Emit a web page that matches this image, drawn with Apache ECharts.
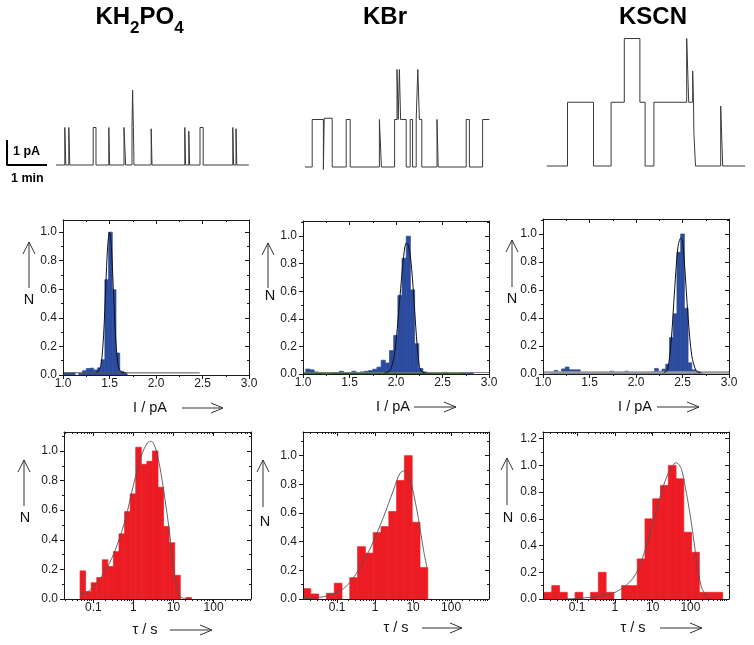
<!DOCTYPE html>
<html><head><meta charset="utf-8"><title>Single channel recordings</title>
<script src="https://cdn.jsdelivr.net/npm/echarts@6.0.0/dist/echarts.min.js"></script>
<style>html,body{margin:0;padding:0;background:#fff;}#chart{width:754px;height:645px;}</style>
</head><body><div id="chart"></div>
<script>
// ================= DATA =================
// Current traces (step events: time in min, current in pA)
const traceKH2PO4Time = [0, 0.22, 0.245, 0.32, 0.345, 0.93, 1.0, 1.32, 1.34, 1.70, 1.74, 1.90, 1.915, 1.935, 1.95, 2.38, 2.40, 3.22, 3.24, 3.32, 3.34, 3.60, 3.68, 4.42, 4.44, 4.50, 4.52, 4.82];
const traceKH2PO4Current = [0, 1.5, 0, 1.5, 0, 1.5, 0, 1.5, 0, 1.5, 0, 1.5, 3.0, 1.5, 0, 1.45, 0, 1.5, 0, 1.35, 0, 1.5, 0, 1.5, 0, 1.45, 0, 0];
const traceKBrTime = [0, 0.18, 0.46, 0.48, 0.68, 1.03, 1.13, 1.86, 1.91, 2.24, 2.30, 2.33, 2.36, 2.39, 2.53, 2.63, 2.69, 2.78, 2.82, 2.86, 2.92, 3.30, 3.33, 4.03, 4.11, 4.44, 4.61];
const traceKBrCurrent = [0, 1.9, -0.1, 1.95, 0, 1.9, 0, 1.9, 0, 1.9, 3.9, 1.9, 3.9, 1.9, 0, 1.9, 0, 1.9, 3.9, 1.9, 0, 1.9, 0, 1.9, 0, 1.9, 1.9];
const traceKSCNTime = [0, 0.52, 1.17, 1.61, 1.94, 2.33, 2.46, 2.68, 3.50, 3.55, 3.65, 3.67, 3.68, 3.72, 4.35, 4.40, 4.96];
const traceKSCNCurrent = [0, 2.55, 0, 2.55, 5.1, 2.55, 0, 2.55, 5.1, 2.55, 3.8, 2.55, 1.3, 0, 2.4, 0, 0];
// Scale bar: 1 pA x 1 min
const scaleBarTime = [-1.225, -1.225, -0.225];
const scaleBarCurrent = [1, 0, 0];

// Current amplitude histograms (bin edges in pA, normalised counts N)
const kh2po4AmpEdges = [1.01,1.05,1.09,1.13,1.17,1.21,1.25,1.29,1.33,1.37,1.41,1.45,1.49,1.53,1.57,1.61,1.65,1.69];
const kh2po4AmpN = [0.015,0.015,0.015,0,0.012,0.03,0.045,0.048,0.035,0.05,0.107,0.667,1.0,0.597,0.154,0.026,0.01];
const kbrAmpEdges = [0.985,1.030,1.075,1.120,1.165,1.210,1.255,1.300,1.345,1.390,1.435,1.480,1.525,1.570,1.615,1.660,1.705,1.750,1.795,1.840,1.885,1.930,1.975,2.020,2.065,2.110,2.155,2.200,2.245,2.290,2.335,2.380,2.425,2.470,2.515,2.560,2.605,2.650,2.695,2.740,2.785,2.830];
const kbrAmpN = [0.012,0.036,0.03,0.015,0.008,0.005,0.005,0.01,0.01,0.02,0.01,0.008,0.02,0.01,0.015,0.02,0.025,0.035,0.05,0.10,0.08,0.17,0.28,0.57,0.84,1.0,0.61,0.22,0.04,0.015,0.008,0.005,0.005,0.005,0.012,0.005,0.005,0.005,0.008,0.005,0.01];
const kscnAmpEdges = [1.00,1.04,1.08,1.12,1.16,1.20,1.24,1.28,1.32,1.36,1.40,1.44,1.48,1.52,1.56,1.60,1.64,1.68,1.72,1.76,1.80,1.84,1.88,1.92,1.96,2.00,2.04,2.08,2.12,2.16,2.20,2.24,2.28,2.32,2.36,2.40,2.44,2.48,2.52,2.56,2.60,2.64,2.68,2.72];
const kscnAmpN = [0,0,0.005,0.026,0.012,0.036,0.05,0.03,0.03,0.03,0.005,0.005,0.003,0.005,0.003,0.005,0.003,0.005,0.02,0.008,0.005,0.008,0.02,0.005,0.005,0.005,0.008,0.008,0.01,0.015,0.04,0.02,0.035,0.07,0.26,0.43,0.87,1.0,0.47,0.08,0.03,0.02,0.005];

// Gaussian fits of amplitude histograms
const kh2po4AmpFitI = [1.36,1.40,1.42,1.44,1.46,1.48,1.50,1.52,1.54,1.56,1.58,1.60,1.63,1.68];
const kh2po4AmpFitN = [0.015,0.05,0.13,0.32,0.62,0.90,1.0,0.90,0.62,0.33,0.14,0.05,0.02,0.015];
const kh2po4AmpBaseI = [1.0, 2.47];
const kh2po4AmpBaseN = [0.015, 0.015];
const kbrAmpFitI = [1.88,1.93,1.96,1.99,2.02,2.05,2.08,2.11,2.13,2.16,2.19,2.22,2.25,2.28,2.32];
const kbrAmpFitN = [0.01,0.02,0.07,0.17,0.38,0.62,0.84,0.95,0.94,0.82,0.57,0.27,0.06,0.015,0.01];
const kbrAmpBaseI = [1.0, 3.0];
const kbrAmpBaseN = [0.01, 0.01];
const kscnAmpFitI = [2.30,2.34,2.38,2.415,2.45,2.48,2.50,2.52,2.56,2.60,2.65,2.70];
const kscnAmpFitN = [0.01,0.03,0.25,0.6,0.9,0.97,0.95,0.8,0.41,0.13,0.02,0.01];
const kscnAmpBaseI = [1.0, 3.0];
const kscnAmpBaseN = [0.01, 0.01];

// Open dwell-time histograms (bin edges in s, normalised counts N)
const kh2po4DwellEdges = [0.0465,0.0640,0.0881,0.1213,0.1671,0.2301,0.3170,0.4365,0.6012,0.8279,1.140,1.570,2.163,2.979,4.102,5.649,7.780,10.72,14.76,20.32,27.99];
const kh2po4DwellN = [0.19,0.05,0.11,0.145,0.265,0.22,0.32,0.44,0.59,0.71,1.025,0.91,0.93,1.0,0.755,0.49,0.38,0.16,0,0.01];
const kbrDwellEdges = [0.0126,0.0202,0.0324,0.0521,0.0836,0.134,0.215,0.345,0.555,0.890,1.429,2.294,3.681,5.909,9.484,15.22,24.43];
const kbrDwellN = [0.072,0.035,0,0.04,0.11,0,0.149,0.365,0.32,0.463,0.505,0.61,0.826,1.0,0.535,0.219];
const kscnDwellEdges = [0.01337,0.02146,0.03443,0.05527,0.08872,0.1424,0.2286,0.3668,0.5888,0.9451,1.517,2.435,3.908,6.273,10.07,16.16,25.94,41.64,66.83,107.3,172.2,276.4,443.6,712.0];
const kscnDwellN = [0.05,0.10,0.05,0,0.05,0,0.05,0.20,0.05,0,0.10,0.10,0.30,0.60,0.75,0.85,1.0,0.90,0.50,0.35,0.05,0.05,0.05];

// Log-normal fits of dwell histograms
const kh2po4DwellFitTau = [0.0465,0.063,0.1,0.158,0.251,0.398,0.631,1.0,1.585,2.24,2.82,3.98,5.62,7.94,10.0,12.6,14.1,20.0];
const kh2po4DwellFitN = [0.03,0.04,0.08,0.15,0.24,0.37,0.54,0.77,0.97,1.055,1.065,0.97,0.74,0.45,0.2,0.06,0.02,0.0];
const kbrDwellFitTau = [0.0126,0.052,0.145,0.324,0.733,1.65,3.04,4.57,6.17,8.4,12.6,18.9,23.2];
const kbrDwellFitN = [0.0,0.02,0.07,0.18,0.35,0.57,0.76,0.88,0.895,0.83,0.62,0.34,0.22];
const kscnDwellFitTau = [0.052,0.398,1.11,3.04,5.6,10.3,18.9,31.5,42.7,58,78.5,106,145,195,266,324];
const kscnDwellFitN = [0.0,0.02,0.055,0.155,0.32,0.57,0.84,0.99,1.02,0.97,0.79,0.57,0.29,0.09,0.02,0.0];

// Tick values / labels
const currentTicks = [1.0, 1.5, 2.0, 2.5, 3.0];
const nTicks = [0, 0.2, 0.4, 0.6, 0.8, 1.0];
const nTicksKSCNDwell = [0, 0.2, 0.4, 0.6, 0.8, 1.0, 1.2];
const tauTicks = [0.1, 1, 10, 100];
const tauTickLabels = ['0.1', '1', '10', '100'];
const tauMinorTicks = [0.02,0.03,0.04,0.05,0.06,0.07,0.08,0.09,0.2,0.3,0.4,0.5,0.6,0.7,0.8,0.9,2,3,4,5,6,7,8,9,20,30,40,50,60,70,80,90,200,300,400,500,600,700,800,900];

// ================= LAYOUT / STYLE =================
const FONT = '"Liberation Sans", Arial, Helvetica, sans-serif';
const INK = '#1a1a1a';
const BLUE = '#2b4c9e';
const RED = '#ec1c24';

const traceLayout = [
  {left: 7, top: 77.5, width: 243, height: 100, xMin: -1.225, xMax: 4.85, yMin: -0.5, yMax: 3.5},
  {left: 305, top: 54.5, width: 186, height: 125, xMin: 0, xMax: 4.65, yMin: -0.5, yMax: 4.5},
  {left: 546.7, top: 28.5, width: 200, height: 150, xMin: 0, xMax: 5.0, yMin: -0.5, yMax: 5.5}
];
const ampLayout = [
  {left: 63, top: 220, width: 186, height: 155, yMax: 1.085},
  {left: 303, top: 221, width: 186, height: 153, yMax: 1.11},
  {left: 543, top: 219, width: 186, height: 155, yMax: 1.107}
];
const dwellLayout = [
  {left: 64, top: 432, width: 187, height: 167, xMin: -1.733, xMax: 2.933, yMax: 1.128},
  {left: 303, top: 432, width: 186, height: 167, xMin: -1.9, xMax: 3.0, yMax: 1.165},
  {left: 543, top: 432, width: 186, height: 167, xMin: -1.9, xMax: 3.02, yMax: 1.25}
];

const grids = [], xAxes = [], yAxes = [], series = [], graphics = [];
const lg = v => Math.log10(v);
const zip = (a, b) => a.map((v, i) => [v, b[i]]);

function addGrid(L) {
  grids.push({left: L.left, top: L.top, width: L.width, height: L.height, containLabel: false, outerBoundsMode: 'none'});
  return grids.length - 1;
}

// ---- traces ----
const traces = [
  [traceKH2PO4Time, traceKH2PO4Current],
  [traceKBrTime, traceKBrCurrent],
  [traceKSCNTime, traceKSCNCurrent]
];
traces.forEach((tr, i) => {
  const L = traceLayout[i];
  const g = addGrid(L);
  xAxes.push({gridIndex: g, type: 'value', min: L.xMin, max: L.xMax, show: false});
  yAxes.push({gridIndex: g, type: 'value', min: L.yMin, max: L.yMax, show: false});
  const xi = xAxes.length - 1, yi = yAxes.length - 1;
  series.push({type: 'line', xAxisIndex: xi, yAxisIndex: yi, data: zip(tr[0], tr[1]), step: 'end',
    showSymbol: false, clip: false, lineStyle: {color: '#3a3a3a', width: 1}, silent: true, animation: false});
  if (i === 0) {
    series.push({type: 'line', xAxisIndex: xi, yAxisIndex: yi, data: zip(scaleBarTime, scaleBarCurrent),
      showSymbol: false, clip: false, lineStyle: {color: '#000', width: 2}, silent: true, animation: false});
  }
});

// ---- framed panel axes ----
function frameAxes(g, xSpec, yMax, yTicks) {
  const line = {show: true, onZero: false, lineStyle: {color: INK, width: 1}};
  const tickStyle = {color: INK, width: 1};
  const labelBase = {fontSize: 12, color: INK, fontFamily: FONT};
  const xb = {gridIndex: g, type: 'value', position: 'bottom', min: xSpec.min, max: xSpec.max, z: 10,
    axisLine: line, splitLine: {show: false},
    axisTick: Object.assign({show: true, inside: false, length: 4, lineStyle: tickStyle}, xSpec.tickExtra || {}),
    axisLabel: Object.assign({show: true, margin: 3}, labelBase, xSpec.labelExtra || {})};
  const xt = {gridIndex: g, type: 'value', position: 'top', min: xSpec.min, max: xSpec.max, z: 10,
    axisLine: line, splitLine: {show: false}, axisLabel: {show: false},
    axisTick: Object.assign({show: true, inside: true, length: 4, lineStyle: tickStyle}, xSpec.tickExtra || {})};
  if (xSpec.interval) {
    xb.interval = xt.interval = xSpec.interval;
    xb.minorTick = {show: true, splitNumber: 2, length: 2, lineStyle: tickStyle};
    xt.minorTick = {show: true, splitNumber: 2, length: 2, lineStyle: tickStyle};
  }
  xAxes.push(xb); const xi = xAxes.length - 1;
  xAxes.push(xt);
  const yl = {gridIndex: g, type: 'value', position: 'left', min: 0, max: yMax, interval: 0.2, z: 10,
    axisLine: line, splitLine: {show: false},
    axisTick: {show: true, inside: false, length: 4, lineStyle: tickStyle, customValues: yTicks},
    minorTick: {show: true, splitNumber: 2, length: 2, lineStyle: tickStyle},
    axisLabel: Object.assign({show: true, margin: 6, customValues: yTicks, formatter: v => Number(v).toFixed(1)}, labelBase)};
  const yr = {gridIndex: g, type: 'value', position: 'right', min: 0, max: yMax, interval: 0.2, z: 10,
    axisLine: line, splitLine: {show: false}, axisLabel: {show: false},
    axisTick: {show: true, inside: true, length: 4, lineStyle: tickStyle, customValues: yTicks},
    minorTick: {show: true, splitNumber: 2, length: 2, lineStyle: tickStyle}};
  yAxes.push(yl); const yi = yAxes.length - 1;
  yAxes.push(yr);
  return {xi, yi};
}

function histSeries(ax, edges, counts, color, tf) {
  const data = [];
  for (let k = 0; k < counts.length; k++) {
    if (counts[k] > 0) data.push([tf(edges[k]), tf(edges[k + 1]), counts[k]]);
  }
  return {type: 'custom', xAxisIndex: ax.xi, yAxisIndex: ax.yi, data, encode: {x: [0, 1], y: 2},
    clip: true, silent: true, animation: false, z: 2,
    renderItem: (params, api) => {
      const p0 = api.coord([api.value(0), 0]);
      const p1 = api.coord([api.value(1), api.value(2)]);
      return {type: 'rect', shape: {x: p0[0], y: p1[1], width: p1[0] - p0[0], height: p0[1] - p1[1]},
        style: {fill: color, stroke: color, lineWidth: 0.7}};
    }};
}
function lineSeries(ax, xs, ys, color, width, smooth) {
  return {type: 'line', xAxisIndex: ax.xi, yAxisIndex: ax.yi, data: zip(xs, ys), showSymbol: false,
    smooth: smooth, clip: true, silent: true, animation: false, z: 3, lineStyle: {color, width}};
}

// ---- amplitude histograms ----
const amp = [
  {edges: kh2po4AmpEdges, n: kh2po4AmpN, fitI: kh2po4AmpFitI, fitN: kh2po4AmpFitN, baseI: kh2po4AmpBaseI, baseN: kh2po4AmpBaseN, baseColor: '#555', baseW: 1},
  {edges: kbrAmpEdges, n: kbrAmpN, fitI: kbrAmpFitI, fitN: kbrAmpFitN, baseI: kbrAmpBaseI, baseN: kbrAmpBaseN, baseColor: '#777', baseW: 1},
  {edges: kscnAmpEdges, n: kscnAmpN, fitI: kscnAmpFitI, fitN: kscnAmpFitN, baseI: kscnAmpBaseI, baseN: kscnAmpBaseN, baseColor: '#9a9a9a', baseW: 2.5}
];
amp.forEach((d, i) => {
  const L = ampLayout[i];
  const g = addGrid(L);
  const ax = frameAxes(g, {min: 1, max: 3, interval: 0.5,
    labelExtra: {customValues: currentTicks, formatter: v => Number(v).toFixed(1)}}, L.yMax, nTicks);
  series.push(histSeries(ax, d.edges, d.n, BLUE, v => v));
  series.push(lineSeries(ax, d.baseI, d.baseN, d.baseColor, d.baseW, false));
  series.push(lineSeries(ax, d.fitI, d.fitN, '#111', 1, 0.3));
});

// ---- dwell-time histograms (log10 tau axis) ----
const dwell = [
  {edges: kh2po4DwellEdges, n: kh2po4DwellN, fitT: kh2po4DwellFitTau, fitN: kh2po4DwellFitN, yTicks: nTicks},
  {edges: kbrDwellEdges, n: kbrDwellN, fitT: kbrDwellFitTau, fitN: kbrDwellFitN, yTicks: nTicks},
  {edges: kscnDwellEdges, n: kscnDwellN, fitT: kscnDwellFitTau, fitN: kscnDwellFitN, yTicks: nTicksKSCNDwell}
];
const majorLogs = tauTicks.map(lg);
const tauLabelFor = v => {
  let best = 0;
  majorLogs.forEach((m, k) => { if (Math.abs(m - v) < Math.abs(majorLogs[best] - v)) best = k; });
  return tauTickLabels[best];
};
dwell.forEach((d, i) => {
  const L = dwellLayout[i];
  const g = addGrid(L);
  const ax = frameAxes(g, {min: L.xMin, max: L.xMax,
    tickExtra: {customValues: majorLogs},
    labelExtra: {customValues: majorLogs, formatter: tauLabelFor}}, L.yMax, d.yTicks);
  series.push(histSeries(ax, d.edges, d.n, RED, lg));
  series.push(lineSeries(ax, d.fitT.map(lg), d.fitN, '#555', 0.9, 0.3));
  // minor log ticks on a twin grid
  const g2 = addGrid(L);
  const minors = tauMinorTicks.map(lg).filter(v => v > L.xMin && v < L.xMax);
  const mt = {color: INK, width: 1};
  xAxes.push({gridIndex: g2, type: 'value', position: 'bottom', min: L.xMin, max: L.xMax, z: 10,
    axisLine: {show: false, onZero: false}, axisLabel: {show: false}, splitLine: {show: false},
    axisTick: {show: true, inside: false, length: 2, lineStyle: mt, customValues: minors}});
  xAxes.push({gridIndex: g2, type: 'value', position: 'top', min: L.xMin, max: L.xMax, z: 10,
    axisLine: {show: false, onZero: false}, axisLabel: {show: false}, splitLine: {show: false},
    axisTick: {show: true, inside: true, length: 2, lineStyle: mt, customValues: minors}});
  yAxes.push({gridIndex: g2, type: 'value', min: 0, max: 1, show: false});
});

// ================= ANNOTATIONS =================
function txt(x, y, text, size, opts) {
  graphics.push({type: 'text', x, y, silent: true, z: 20,
    style: Object.assign({text, fill: '#111', font: (opts && opts.bold ? 'bold ' : '') + size + 'px ' + FONT,
      align: (opts && opts.align) || 'center', verticalAlign: 'middle',
      textAlign: (opts && opts.align) || 'center', textVerticalAlign: 'middle'}, (opts && opts.style) || {})});
}
function arrowUp(x, y1, y2) {
  graphics.push({type: 'polyline', silent: true, z: 20, shape: {points: [[x, y1], [x, y2]]}, style: {stroke: '#333', lineWidth: 1, fill: null}});
  graphics.push({type: 'polyline', silent: true, z: 20, shape: {points: [[x - 6, y2 + 12], [x, y2], [x + 6, y2 + 12]]}, style: {stroke: '#333', lineWidth: 1, fill: null}});
}
function arrowRight(x1, x2, y) {
  graphics.push({type: 'polyline', silent: true, z: 20, shape: {points: [[x1, y], [x2, y]]}, style: {stroke: '#333', lineWidth: 1, fill: null}});
  graphics.push({type: 'polyline', silent: true, z: 20, shape: {points: [[x2 - 12, y - 5], [x2, y], [x2 - 12, y + 5]]}, style: {stroke: '#333', lineWidth: 1, fill: null}});
}

// Titles
const titleRich = {
  m: {fontSize: 24, fontWeight: 'bold', fontFamily: FONT, fill: '#000', verticalAlign: 'middle'},
  s: {fontSize: 17, fontWeight: 'bold', fontFamily: FONT, fill: '#000', verticalAlign: 'middle', padding: [22, 0, 0, 0]}
};
graphics.push({type: 'text', x: 139.5, y: 17, silent: true, z: 20,
  style: {text: '{m|KH}{s|2}{m|PO}{s|4}', rich: titleRich, align: 'center', verticalAlign: 'middle', textAlign: 'center', textVerticalAlign: 'middle'}});
txt(385, 17, 'KBr', 24, {bold: true, style: {fill: '#000'}});
txt(653, 17, 'KSCN', 24, {bold: true, style: {fill: '#000'}});

// Scale bar labels
txt(13, 151.5, '1 pA', 12.5, {bold: true, align: 'left', style: {fill: '#000'}});
txt(11, 179, '1 min', 12.5, {bold: true, align: 'left', style: {fill: '#000'}});

// Axis titles with arrows
const axisTitles = [
  {nx: 29, ny: 300, ax: 29, ay1: 288, ay2: 242, label: 'I / pA', lx: 150, ly: 408, rx1: 182, rx2: 223},
  {nx: 270, ny: 296, ax: 268, ay1: 288, ay2: 243, label: 'I / pA', lx: 393, ly: 407, rx1: 414, rx2: 456},
  {nx: 512, ny: 299, ax: 512, ay1: 287, ay2: 240, label: 'I / pA', lx: 635, ly: 407, rx1: 657, rx2: 699},
  {nx: 25, ny: 518, ax: 24, ay1: 506, ay2: 460, label: 'τ / s', lx: 145, ly: 630, rx1: 170, rx2: 212},
  {nx: 265, ny: 522, ax: 263, ay1: 507, ay2: 460, label: 'τ / s', lx: 396, ly: 628, rx1: 422, rx2: 462},
  {nx: 508, ny: 518, ax: 507, ay1: 505, ay2: 458, label: 'τ / s', lx: 633, ly: 628, rx1: 660, rx2: 702}
];
axisTitles.forEach(a => {
  txt(a.nx, a.ny, 'N', 14.5);
  arrowUp(a.ax, a.ay1, a.ay2);
  txt(a.lx, a.ly, a.label, 14.5);
  arrowRight(a.rx1, a.rx2, a.ly);
});

const chart = echarts.init(document.getElementById('chart'), null, {renderer: 'canvas'});
chart.setOption({
  animation: false,
  backgroundColor: '#fff',
  grid: grids,
  xAxis: xAxes,
  yAxis: yAxes,
  series: series,
  graphic: {elements: graphics}
});
</script>
</body></html>
